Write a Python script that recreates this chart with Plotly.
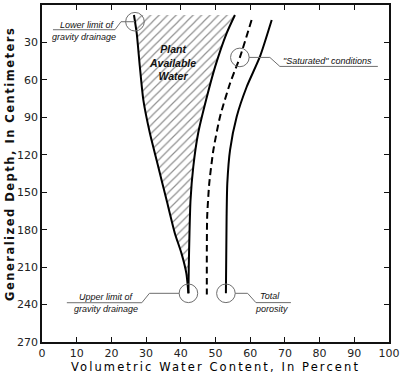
import numpy as np
import plotly.graph_objects as go

# ---- data (depth in cm, volumetric water content in %) ----
lower_depth = [8, 22.7, 49.4, 76, 102.8, 129.6, 156.3, 183, 199, 215, 231]
lower_wc    = [26.5, 27.3, 28.2, 29.2, 31.1, 33.5, 35.9, 38.3, 40.2, 41.6, 42.2]

upper_depth = [8, 22.7, 49.4, 76, 102.8, 129.6, 156.3, 183, 209.7, 231]
upper_wc    = [55.6, 53.2, 49.9, 47.3, 45.0, 43.6, 42.8, 42.5, 42.3, 42.2]

sat_depth = [12, 41.4, 62.7, 89.5, 116, 142.9, 169.6, 196, 232]
sat_wc    = [60.4, 57.1, 54.2, 51.3, 49.4, 48.2, 47.6, 47.5, 47.5]

por_depth = [12, 41.4, 65.5, 89.5, 116, 142.9, 169.6, 231]
por_wc    = [66.2, 62.8, 59.0, 56.1, 54.2, 53.4, 53.2, 53.0]

x_ticks = list(range(0, 101, 10))
y_ticks = list(range(0, 271, 30))

lower_mark_depth = 13.4
sat_mark_depth = 42

ANN_FONT = dict(family="Liberation Sans", size=9, color="#111", style="italic")
GRAY = "#6e6e6e"

fig = go.Figure()

# hatched plant-available-water region
fig.add_trace(go.Scatter(
    x=lower_wc + upper_wc[::-1],
    y=lower_depth + upper_depth[::-1],
    mode="lines", fill="toself", line=dict(width=0, shape="spline", smoothing=0.6),
    fillcolor="rgba(0,0,0,0)",
    fillpattern=dict(shape="/", fgcolor="#222", bgcolor="white", size=6, solidity=0.2),
    hoverinfo="skip", showlegend=False))

line_style = dict(color="black", width=2, shape="spline", smoothing=0.6)
fig.add_trace(go.Scatter(x=lower_wc, y=lower_depth, mode="lines", line=line_style, showlegend=False))
fig.add_trace(go.Scatter(x=upper_wc, y=upper_depth, mode="lines", line=line_style, showlegend=False))
fig.add_trace(go.Scatter(x=sat_wc, y=sat_depth, mode="lines",
                         line=dict(line_style, dash="7px,4px"), showlegend=False))
fig.add_trace(go.Scatter(x=por_wc, y=por_depth, mode="lines", line=line_style, showlegend=False))

# marker anchor points
lower_mark = (float(np.interp(lower_mark_depth, lower_depth, lower_wc)), lower_mark_depth)
sat_mark = (float(np.interp(sat_mark_depth, sat_depth, sat_wc)), sat_mark_depth)
upper_mark = (lower_wc[-1], lower_depth[-1])
por_mark = (por_wc[-1], por_depth[-1])

R = 9.3
def circle(pt):
    fig.add_shape(type="circle", xref="x", yref="y", xsizemode="pixel", ysizemode="pixel",
                  xanchor=pt[0], yanchor=pt[1], x0=-R, x1=R, y0=-R, y1=R,
                  line=dict(color=GRAY, width=1))

def leader(pt, path):
    fig.add_shape(type="path", xref="x", yref="y", xsizemode="pixel", ysizemode="pixel",
                  xanchor=pt[0], yanchor=pt[1], path=path,
                  line=dict(color=GRAY, width=1))

def label(pt, text, dx, dy):
    fig.add_annotation(x=pt[0], y=pt[1], xref="x", yref="y", text=text, showarrow=False,
                       xshift=dx, yshift=dy, font=ANN_FONT)

for pt in (lower_mark, sat_mark, upper_mark, por_mark):
    circle(pt)

leader(lower_mark, "M0,0 L-14,0 L-20,-8 L-82,-8")
label(lower_mark, "Lower limit of", -47, -3.5)
label(lower_mark, "gravity drainage", -51, -15)

leader(sat_mark, "M9.3,0 L30,0 L40,-9 L138,-9")
label(sat_mark, "\"Saturated\" conditions", 88, -3.5)

leader(upper_mark, "M-9.3,0 L-39,0 L-46.6,-9.4 L-121.6,-9.4")
label(upper_mark, "Upper limit of", -81.6, -3.7)
label(upper_mark, "gravity drainage", -82.6, -15.2)

leader(por_mark, "M9.3,0 L21.7,0 L30,-9.3 L65,-9.3")
label(por_mark, "Total", 44, -2.7)
label(por_mark, "porosity", 46, -15.3)

fig.add_annotation(x=37.5, y=45.7, xref="x", yref="y", showarrow=False,
                   text="Plant<br>Available<br>Water",
                   font=dict(family="Liberation Sans", size=10.5, color="#111",
                             style="italic", weight="bold"))

L, Rm, T, B = 42, 11, 5, 35
W, H = 400, 377
pw, ph = W - L - Rm, H - T - B
fig.add_annotation(x=(10 - L) / pw, y=(H - B - 164) / ph, xref="paper", yref="paper",
                   showarrow=False, textangle=-90, xanchor="center", yanchor="middle",
                   text='<span style="letter-spacing:1.5px">Generalized Depth, In Centimeters</span>',
                   font=dict(family="DejaVu Sans", size=11.5, color="#111", weight="bold"))

axis_common = dict(showline=True, linecolor="#111", linewidth=1.5, mirror="ticks",
                   ticks="inside", ticklen=5, tickcolor="#111", tickwidth=1,
                   showgrid=False, zeroline=False, automargin=False,
                   tickfont=dict(family="DejaVu Sans", size=11, color="#222"))

fig.update_xaxes(range=[0, 100], tickvals=x_ticks, **axis_common,
                 title=dict(text='<span style="letter-spacing:2.1px">Volumetric Water Content, In Percent</span>',
                            font=dict(family="DejaVu Sans", size=11.5, color="#000"),
                            standoff=2))
fig.update_yaxes(range=[270, 0], tickvals=y_ticks, **axis_common)

fig.update_layout(width=W, height=H, margin=dict(l=L, r=Rm, t=T, b=B, autoexpand=False),
                  plot_bgcolor="white", paper_bgcolor="white", showlegend=False)

fig.write_html("out.html", config={"displayModeBar": False},
               post_script="document.body.style.margin='0';document.body.style.padding='0';")
